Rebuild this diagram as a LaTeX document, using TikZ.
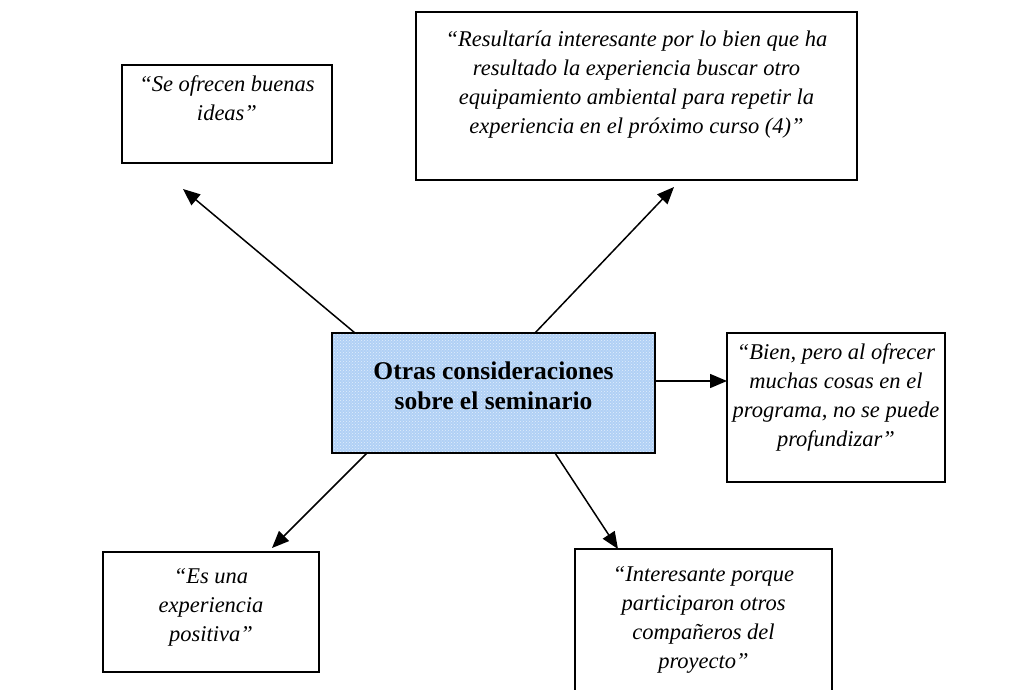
\documentclass[tikz,border=0pt]{standalone}
\usepackage{fontspec}
\setmainfont{Liberation Serif}
\usetikzlibrary{arrows.meta,patterns}
\definecolor{cfill}{RGB}{176,208,245}
\definecolor{cdots}{RGB}{225,238,252}
\begin{document}
\begin{tikzpicture}[x=1pt,y=-1pt,
  box/.style={draw=black, line width=1.8pt, inner sep=0pt, outer sep=0pt},
  quote/.style={font=\fontsize{22.5}{29}\selectfont\itshape, align=center, inner sep=0pt},
  title/.style={font=\fontsize{25.5}{30}\selectfont\bfseries, align=center, inner sep=0pt},
  arr/.style={line width=1.5pt, -{Triangle[length=17pt,width=14pt]}}]
\useasboundingbox (0,0) rectangle (1035,690);
% boxes
\node[box, minimum width=210pt, minimum height=98pt] (bTL) at (227,114) {};
\node[box, minimum width=441pt, minimum height=168pt] (bTR) at (636.5,96) {};
\node[box, preaction={fill=cfill}, pattern=crosshatch dots, pattern color=cdots, minimum width=323pt, minimum height=120pt] (c) at (493.5,393) {};
\node[box, minimum width=218pt, minimum height=149pt] (bR) at (836,407.5) {};
\node[box, minimum width=216pt, minimum height=120pt] (bBL) at (211,612) {};
\node[box, minimum width=257pt, minimum height=160pt] (bBR) at (703.5,629) {};
% texts
\node[quote] (tTL) at (227,98) {``Se ofrecen buenas\\ideas''};
\node[quote] (tTR) at (636.5,85) {``Resultaría interesante por lo bien que ha\\resultado la experiencia buscar otro\\equipamiento ambiental para repetir la\\experiencia en el próximo curso (4)''};
\node[title] (tc) at (493.5,386) {Otras consideraciones\\sobre el seminario};
\node[quote] (tR) at (836,397) {``Bien, pero al ofrecer\\muchas cosas en el\\programa, no se puede\\profundizar''};
\node[quote] (tBL) at (211,607) {``Es una\\experiencia\\positiva''};
\node[quote] (tBR) at (703.5,620) {``Interesante porque\\participaron otros\\compañeros del\\proyecto''};
% free ends
\coordinate (eTL) at (183,189);
\coordinate (eTR) at (674,187);
\coordinate (eBL) at (272,548);
% connectors
\draw[arr] ([xshift=23pt]c.north west) -- (eTL);
\draw[arr] ([xshift=203pt]c.north west) -- (eTR);
\draw[arr] ([yshift=12pt]c.east) -- ([yshift=26.5pt]bR.west);
\draw[arr] ([xshift=35pt]c.south west) -- (eBL);
\draw[arr] ([xshift=223pt]c.south west) -- ([xshift=43pt]bBR.north west);
\end{tikzpicture}
\end{document}
